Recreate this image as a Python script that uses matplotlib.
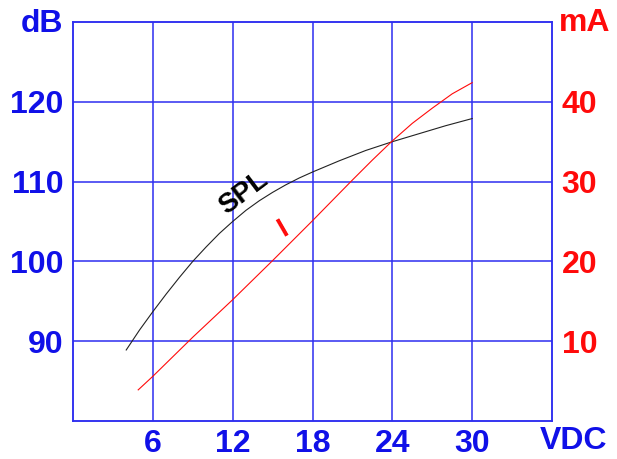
import matplotlib
matplotlib.use("Agg")
import matplotlib.pyplot as plt

plt.rcParams['font.family'] = ['Liberation Sans', 'DejaVu Sans']
plt.rcParams['font.weight'] = 'bold'

# values
spl_vdc = [4, 5, 6, 7, 8, 9, 10, 11, 12, 13, 14, 15, 16, 17, 18, 20, 22, 24, 26, 28, 30]
spl_db = [88.9, 91.4, 93.7, 95.9, 98.0, 100.0, 101.8, 103.5, 105.0, 106.4, 107.6, 108.65,
          109.6, 110.45, 111.2, 112.6, 113.9, 115.0, 116.0, 117.0, 117.9]

i_vdc = [4.9, 6, 9, 12, 15, 18, 21, 22.5, 24, 25.5, 27, 28.5, 30]
i_ma = [3.9, 5.6, 10.5, 15.2, 20.1, 25.1, 30.2, 32.7, 35.1, 37.3, 39.2, 41.0, 42.4]

x_ticks = [6, 12, 18, 24, 30]
db_ticks = [90, 100, 110, 120]
ma_ticks = [10, 20, 30, 40]

BLUE = '#1010e8'
GRID = '#2e2ef0'
RED = '#ff0a0a'

fig = plt.figure(figsize=(6.17, 4.59), dpi=100)
ax = fig.add_axes([73 / 617, 1 - 421 / 459, 479 / 617, 399 / 459])
ax2 = ax.twinx()

ax.plot(spl_vdc, spl_db, color='#222222', lw=0.8)
ax2.plot(i_vdc, i_ma, color=RED, lw=0.8)

ax.set_xlim(0, 36)
ax.set_ylim(80, 130)
ax2.set_ylim(0, 50)

ax.set_xticks(x_ticks)
ax.set_yticks(db_ticks)
ax2.set_yticks(ma_ticks)

ax.grid(True, color=GRID, lw=1.1)
ax.set_axisbelow(True)
for a in (ax, ax2):
    for s in a.spines.values():
        s.set_color(GRID)
        s.set_linewidth(1.1)

ax.tick_params(axis='x', length=0, pad=6, labelsize=23, labelcolor=BLUE)
ax.tick_params(axis='y', length=0, pad=7, labelsize=23, labelcolor=BLUE)
ax2.tick_params(axis='y', length=0, pad=7, labelsize=23, labelcolor=RED)

# unit labels at the axis ends
fig.text(63 / 617, 1 - 24 / 459, 'dB', color=BLUE, fontsize=23, ha='right', va='center')
fig.text(559 / 617, 1 - 23 / 459, 'mA', color=RED, fontsize=23, ha='left', va='center')
fig.text(540 / 617, 1 - 441 / 459, 'VDC', color=BLUE, fontsize=23, ha='left', va='center')

# curve labels
ax.text(12.8, 108.6, 'SPL', color='black', fontsize=20, rotation=37,
        ha='center', va='center', rotation_mode='anchor')
ax.text(15.75, 104.0, 'I', color=RED, fontsize=20, rotation=30,
        ha='center', va='center', rotation_mode='anchor')

fig.savefig('out.png', dpi=100)
